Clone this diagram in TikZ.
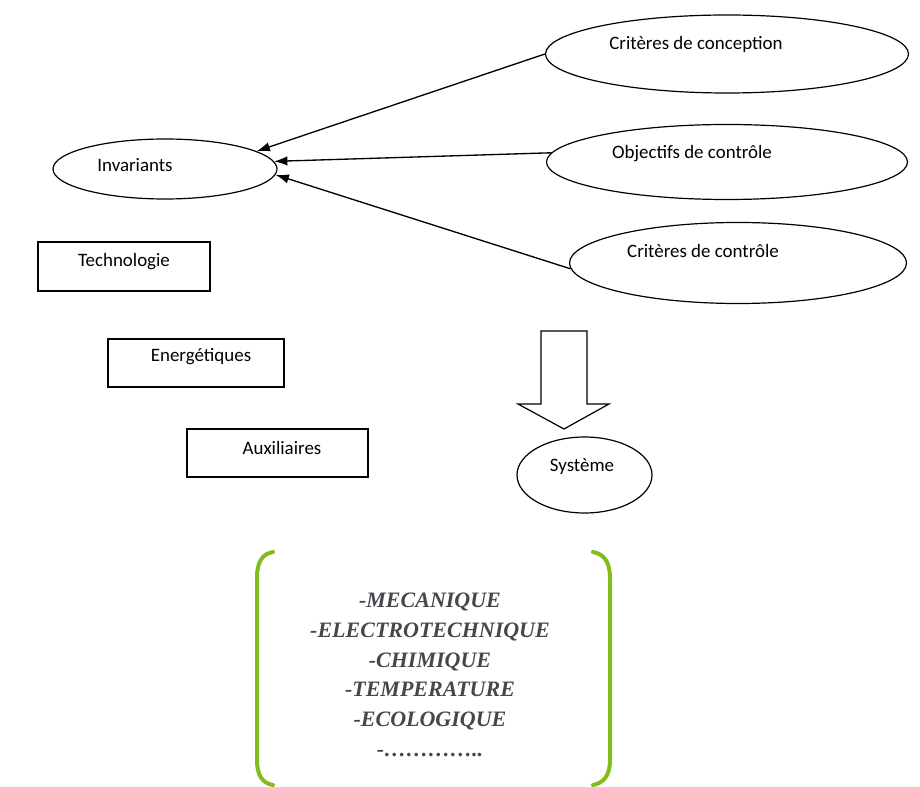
\documentclass[tikz,border=0pt]{standalone}
\usepackage{fontspec}
\setmainfont{Carlito}
\newfontfamily\tmsfont{Liberation Serif}
\usetikzlibrary{arrows.meta,shapes.geometric}
\definecolor{brk}{RGB}{132,188,32}
\definecolor{lst}{RGB}{70,70,76}
\tikzset{
  ell/.style={draw,line width=0.9pt,ellipse,inner sep=0pt},
  boxn/.style={draw,line width=0.9pt,rectangle,inner sep=0pt},
  lbl/.style={inner sep=0pt,font=\fontsize{14.2}{17}\selectfont},
  conn/.style={line width=1pt,-{Latex[length=10pt,width=7pt]}},
  brack/.style={draw=brk,line width=3pt,line cap=round}
}
\begin{document}
\begin{tikzpicture}[x=0.75pt,y=-0.75pt]
\useasboundingbox (0,0) rectangle (920,787);
% ellipses
\node[ell,minimum width=168pt,minimum height=45pt] (inv) at (165,169) {};
\node[lbl] (invt) at (135,165) {Invariants};
\node[ell,minimum width=272.25pt,minimum height=58.5pt] (cc) at (727,54) {};
\node[lbl] (cct) at (696,44) {Critères de conception};
\node[ell,minimum width=270.75pt,minimum height=56.25pt] (ob) at (727,162) {};
\node[lbl] (obt) at (692,154) {Objectifs de contrôle};
\node[ell,minimum width=252.75pt,minimum height=60.75pt] (cr) at (738,263) {};
\node[lbl] (crt) at (703,251) {Critères de contrôle};
\node[ell,minimum width=101.25pt,minimum height=57pt] (sys) at (584.5,475) {};
\node[lbl] (syst) at (582,467) {Système};
% boxes
\node[boxn,minimum width=129pt,minimum height=36.75pt] (tech) at (124,266.5) {};
\node[lbl] (techt) at (124,262) {Technologie};
\node[boxn,minimum width=132pt,minimum height=36pt] (ener) at (196,363) {};
\node[lbl] (enert) at (201,357) {Energétiques};
\node[boxn,minimum width=135.75pt,minimum height=36pt] (aux) at (277.5,453) {};
\node[lbl] (auxt) at (282,448) {Auxiliaires};
% connectors
\draw[conn] (cc.west) -- (inv.11);
\draw[conn] (ob.177) -- (inv.4);
\draw[conn] (cr.182) -- (inv.-3);
% block arrow
\draw[line width=0.9pt,line join=miter] (541,331) -- (587,331) -- (587,404) -- (609,404) -- (564,429) -- (518,404) -- (541,404) -- cycle;
% brackets
\draw[brack] (273,552) .. controls (262,554) and (257,562) .. (257,578) -- (257,760) .. controls (257,775) and (262,783) .. (273,785);
\draw[brack] (593,552) .. controls (604,554) and (610,562) .. (610,578) -- (610,760) .. controls (610,775) and (604,783) .. (593,785);
% list
\node[inner sep=0pt,align=center,text=lst,font=\tmsfont\bfseries\itshape\fontsize{16.5}{22.3}\selectfont] (list) at (430,675) {-MECANIQUE\\-ELECTROTECHNIQUE\\-CHIMIQUE\\-TEMPERATURE\\-ECOLOGIQUE\\-…………..};
\end{tikzpicture}
\end{document}
